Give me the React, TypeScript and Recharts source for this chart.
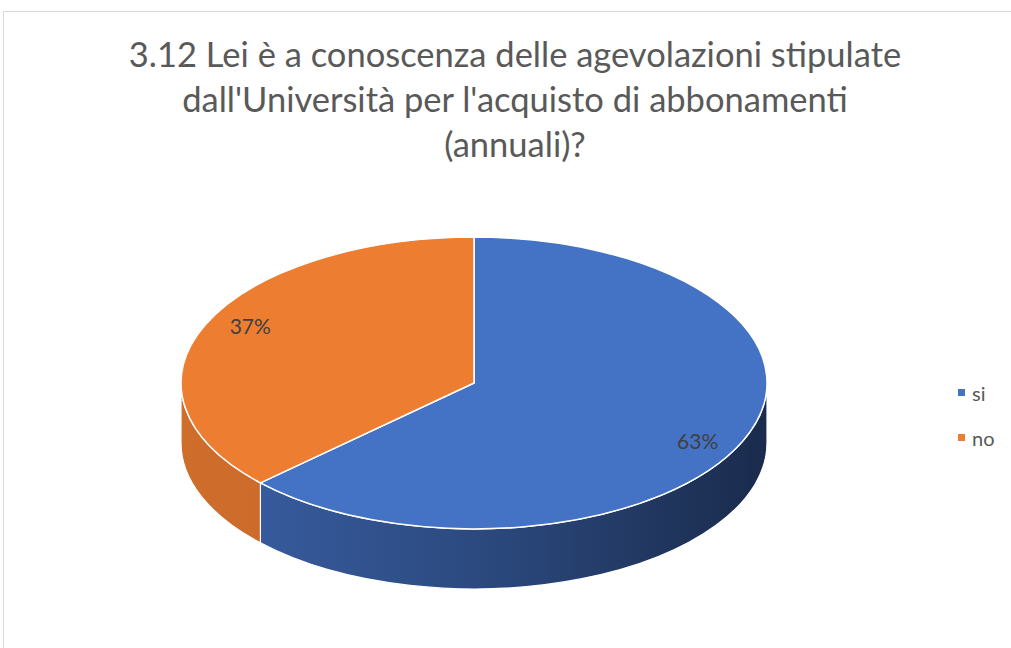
import React from "react";
import { PieChart, Pie, Cell, Legend } from "recharts";

const categories = ["si", "no"];
const values = [63, 37];
const colors = ["#4472C4", "#ED7D31"];
const sideColors = [
  ["#3a60a6", "#2c4a80", "#1a2b4c"],
  ["#cf6d2b", "#c4672a", "#b05c25"],
];
const titleLines = [
  "3.12 Lei è a conoscenza delle agevolazioni stipulate",
  "dall'Università per l'acquisto di abbonamenti",
  "(annuali)?",
];

const data = categories.map((name, i) => ({ name, value: values[i] }));

const RATIO = 0.498;
const DEPTH = 60;
const LABEL_ANGLE_SHIFT = -4;
const FONT = "Lato, 'Liberation Sans', sans-serif";

const rad = (d: number) => (d * Math.PI) / 180;

const renderSlice = (props: any) => {
  const { cx, cy, outerRadius, startAngle, endAngle, fill, index } = props;
  const rx = outerRadius;
  const ry = outerRadius * RATIO;
  const pt = (a: number, dy = 0) => [cx + rx * Math.cos(rad(a)), cy - ry * Math.sin(rad(a)) + dy];
  const hi = Math.max(startAngle, endAngle);
  const lo = Math.min(startAngle, endAngle);
  const sides: string[] = [];
  for (let k = -2; k <= 2; k++) {
    const a = Math.min(hi, 360 * k);
    const b = Math.max(lo, -180 + 360 * k);
    if (a > b) {
      const p1 = pt(a);
      const p2 = pt(b);
      const p3 = pt(b, DEPTH);
      const p4 = pt(a, DEPTH);
      sides.push(
        `M${p1[0]},${p1[1]} A${rx},${ry} 0 0 1 ${p2[0]},${p2[1]} L${p3[0]},${p3[1]} A${rx},${ry} 0 0 0 ${p4[0]},${p4[1]} Z`
      );
    }
  }
  const s = pt(startAngle);
  const e = pt(endAngle);
  const large = Math.abs(startAngle - endAngle) > 180 ? 1 : 0;
  const sweep = startAngle > endAngle ? 1 : 0;
  const top = `M${cx},${cy} L${s[0]},${s[1]} A${rx},${ry} 0 ${large} ${sweep} ${e[0]},${e[1]} Z`;
  const gid = `side-grad-${index}`;
  const sc = sideColors[index % sideColors.length];
  return (
    <g>
      <defs>
        <linearGradient id={gid} gradientUnits="userSpaceOnUse" x1={cx - rx} y1={0} x2={cx + rx} y2={0}>
          <stop offset="0" stopColor={sc[0]} />
          <stop offset="0.5" stopColor={sc[1]} />
          <stop offset="1" stopColor={sc[2]} />
        </linearGradient>
      </defs>
      {sides.map((d, i) => (
        <path key={i} d={d} fill={`url(#${gid})`} stroke="#ffffff" strokeWidth={1.2} />
      ))}
      <path d={top} fill={fill} stroke="#ffffff" strokeWidth={1.5} strokeLinejoin="round" />
    </g>
  );
};

const renderLabel = (props: any) => {
  const { cx, cy, midAngle, outerRadius, percent } = props;
  const r = outerRadius * 0.86;
  const a = midAngle + LABEL_ANGLE_SHIFT;
  const x = cx + r * Math.cos(rad(a));
  const y = cy - r * RATIO * Math.sin(rad(a));
  return (
    <text x={x} y={y} fill="#404040" fontSize={21} fontFamily={FONT} textAnchor="middle" dominantBaseline="central">
      {`${Math.round(percent * 100)}%`}
    </text>
  );
};

const renderLegend = (props: any) => {
  const payload = [...(props.payload || [])].sort(
    (a: any, b: any) => categories.indexOf(a.value) - categories.indexOf(b.value)
  );
  return (
    <div style={{ fontFamily: FONT }}>
      {payload.map((entry: any, i: number) => (
        <div key={i} style={{ display: "flex", alignItems: "center", height: 45 }}>
          <span style={{ width: 7, height: 7, background: entry.color, display: "inline-block", marginRight: 7 }} />
          <span style={{ color: "#595959", fontSize: 20 }}>{entry.value}</span>
        </div>
      ))}
    </div>
  );
};

export default function App() {
  return (
    <div style={{ position: "absolute", left: 0, top: 0, width: 1011, height: 648, overflow: "hidden", background: "#fff" }}>
      <div
        style={{
          position: "absolute",
          left: 3,
          top: 11,
          width: 1020,
          height: 660,
          border: "1px solid #d9d9d9",
          boxSizing: "border-box",
        }}
      />
      <div
        style={{
          position: "absolute",
          left: 0,
          top: 31,
          width: 1030,
          textAlign: "center",
          fontFamily: FONT,
          fontSize: 34.5,
          lineHeight: "45px",
          color: "#595959",
        }}
      >
        {titleLines.map((t, i) => (
          <div key={i}>{t}</div>
        ))}
      </div>
      <div style={{ position: "absolute", left: 0, top: 0 }}>
        <PieChart width={1011} height={648} margin={{ top: 0, right: 0, bottom: 0, left: 0 }}>
          <Pie
            data={data}
            dataKey="value"
            nameKey="name"
            cx={474}
            cy={383}
            outerRadius={293}
            startAngle={90}
            endAngle={-270}
            isAnimationActive={false}
            shape={renderSlice}
            activeShape={renderSlice}
            inactiveShape={renderSlice}
            label={renderLabel}
            labelLine={false}
          >
            {data.map((d, i) => (
              <Cell key={d.name} fill={colors[i]} />
            ))}
          </Pie>
          <Legend
            layout="vertical"
            align="right"
            verticalAlign="top"
            content={renderLegend}
            wrapperStyle={{ left: 958, top: 370, width: 60 }}
          />
        </PieChart>
      </div>
    </div>
  );
}
